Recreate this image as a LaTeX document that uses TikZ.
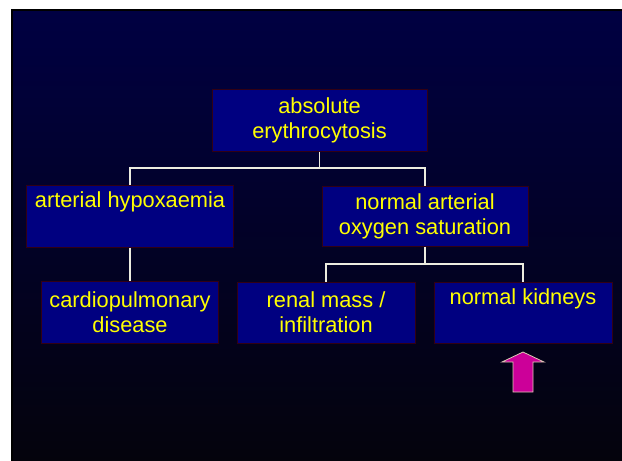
\documentclass[tikz,border=0pt]{standalone}
\usepackage{fontspec}
\setmainfont{Liberation Sans}
\definecolor{bgtop}{RGB}{0,0,66}
\definecolor{bgbot}{RGB}{4,3,12}
\definecolor{boxfill}{RGB}{0,0,128}
\definecolor{boxline}{RGB}{50,0,20}
\definecolor{txt}{RGB}{255,255,0}
\definecolor{conn}{RGB}{236,236,224}
\definecolor{arrowfill}{RGB}{204,0,153}
\definecolor{arrowline}{RGB}{220,200,180}
\begin{document}
\begin{tikzpicture}[x=1pt,y=-1pt,
  box/.style={draw=boxline,line width=1pt,fill=boxfill,inner sep=0pt,
    text=txt,align=center,font=\fontsize{21.8}{25}\selectfont},
  link/.style={draw=conn,line width=1.2pt}]
\useasboundingbox (0,0) rectangle (622,461);
\fill[white] (0,0) rectangle (622,461);
\shade[top color=bgtop,bottom color=bgbot] (12,10) rectangle (622,461);
\draw[black,line width=1.5pt] (12,461) -- (12,10) -- (622,10);
% boxes
\node[box,minimum width=215pt,minimum height=62pt] (top) at (319.5,120) {absolute\\erythrocytosis};
\node[box,minimum width=207pt,minimum height=62pt] (hyp) at (130,216) {arterial hypoxaemia\\\strut};
\node[box,minimum width=206pt,minimum height=60pt] (norm) at (425,216) {normal arterial\\oxygen saturation};
\node[box,minimum width=177pt,minimum height=62pt] (cardio) at (130,312) {cardiopulmonary\\disease};
\node[box,minimum width=178pt,minimum height=61pt] (renal) at (326,312.5) {renal mass /\\infiltration};
\node[box,minimum width=178pt,minimum height=61pt] (kid) at (523,312.5) {normal kidneys\\\strut};
% connectors
\coordinate (j1) at (319.5,168);
\coordinate (j2) at (425,264);
\draw[link] (top.south) -- (j1);
\draw[link] (hyp.north) |- (j1) -| (norm.north);
\draw[link] (norm.south) -- (j2);
\draw[link] (renal.north) |- (j2) -| (kid.north);
\draw[link] (hyp.south) -- (cardio.north);
% arrow
\draw[draw=arrowline,fill=arrowfill,line width=0.8pt,line join=miter]
  (513,392) -- (513,362) -- (502,362) -- (523,352) -- (544,362) -- (533,362) -- (533,392) -- cycle;
\end{tikzpicture}
\end{document}
